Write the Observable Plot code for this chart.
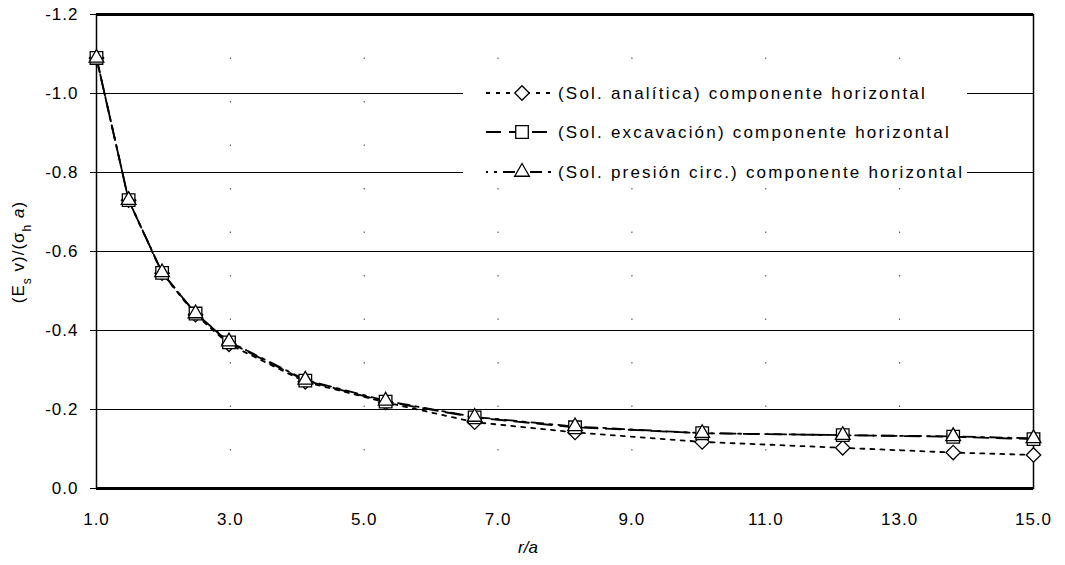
<!DOCTYPE html>
<html><head><meta charset="utf-8">
<script src="https://cdn.jsdelivr.net/npm/d3@7"></script>
<script src="https://cdn.jsdelivr.net/npm/@observablehq/plot@0.6"></script>
<style>
body{margin:0;background:#fff;}
#chart{width:1065px;height:565px;}
g[aria-label="x-axis tick label"] text, g[aria-label="y-axis tick label"] text{letter-spacing:1px;}
</style></head><body><div id="chart"></div>
<script>
// r/a positions of the computed points
const rOverA = [1.0, 1.48, 1.98, 2.48, 2.98, 4.12, 5.32, 6.65, 8.15, 10.05, 12.15, 13.8, 15.0];
// (Es v)/(sigma_h a) values
const analitica  = [-1.09, -0.73, -0.545, -0.44, -0.365, -0.27, -0.218, -0.168, -0.142, -0.118, -0.103, -0.091, -0.085];
const excavacion = [-1.09, -0.73, -0.546, -0.443, -0.37, -0.273, -0.22, -0.18, -0.155, -0.14, -0.135, -0.131, -0.125];
const presion    = [-1.09, -0.73, -0.547, -0.443, -0.372, -0.275, -0.222, -0.181, -0.157, -0.14, -0.135, -0.132, -0.127];
const seriesNames = [
  "(Sol. analítica) componente horizontal",
  "(Sol. excavación) componente horizontal",
  "(Sol. presión circ.) componente horizontal"
];
const xTicks = [1, 3, 5, 7, 9, 11, 13, 15];
const yTicks = [0, -0.2, -0.4, -0.6, -0.8, -1.0, -1.2];
const xLabel = "r/a";

const seriesValues = [analitica, excavacion, presion];
const styles = [
  {dash: "4,6", offset: 0, symbol: "diamond2", r: 6.5, d3sym: d3.symbolDiamond2},
  {dash: "15,8", offset: 0, symbol: "square2", r: 8, d3sym: d3.symbolSquare2},
  {dash: "12,6,3,6", offset: 10, symbol: "triangle2", r: 7, d3sym: d3.symbolTriangle2}
];
const rows = [];
seriesValues.forEach((vals, i) => vals.forEach((v, j) => rows.push({k: i, series: seriesNames[i], x: rOverA[j], y: v})));

const fmt = d => (Math.abs(d) < 1e-9 ? 0 : d).toFixed(1);

const marks = [
  Plot.ruleX(xTicks.slice(1, -1), {stroke: "#444", strokeDasharray: "1.5,42", strokeWidth: 1}),
  Plot.ruleY(yTicks.slice(1, -1), {stroke: "black", strokeWidth: 1}),
  Plot.frame({stroke: "black", strokeWidth: 1.5}),
  Plot.ruleY([0, -1.2], {stroke: "black", strokeWidth: 3}),
  Plot.axisX({ticks: xTicks, tickFormat: fmt, tickSize: 0, tickPadding: 24, fontSize: 17, label: null}),
  Plot.axisY({ticks: yTicks, tickFormat: fmt, tickSize: 6, tickPadding: 12, fontSize: 17, label: null})
];
styles.forEach((s, i) => {
  marks.push(Plot.line(rows.filter(d => d.k === i), {x: "x", y: "y", stroke: "black", strokeWidth: 1.8, strokeDasharray: s.dash, strokeDashoffset: s.offset}));
});
styles.forEach((s, i) => {
  marks.push(Plot.dot(rows.filter(d => d.k === i), {x: "x", y: "y", symbol: () => s.symbol, r: s.r, stroke: "black", strokeWidth: 1.3, fill: "white"}));
});

const plot = Plot.plot({
  width: 1065, height: 565,
  marginLeft: 96, marginRight: 32, marginTop: 14, marginBottom: 77,
  style: {fontFamily: "'Liberation Sans', Arial, sans-serif", background: "white", color: "black"},
  x: {domain: [1, 15]},
  y: {domain: [0, -1.2]},
  marks
});
document.getElementById("chart").appendChild(plot);

const svg = d3.select(plot);
// y label
const yl = svg.append("text").attr("transform", "translate(24,252) rotate(-90)")
  .attr("text-anchor", "middle").attr("font-size", 17).attr("fill", "black").attr("letter-spacing", "1px");
yl.append("tspan").text("(E");
yl.append("tspan").attr("baseline-shift", "sub").attr("font-size", 12).text("s");
yl.append("tspan").text(" v)/(σ");
yl.append("tspan").attr("baseline-shift", "sub").attr("font-size", 12).text("h");
yl.append("tspan").text(" ");
yl.append("tspan").attr("font-style", "italic").text("a");
yl.append("tspan").text(")");
// x label
svg.append("text").attr("x", 528).attr("y", 553).attr("text-anchor", "middle")
  .attr("font-size", 17).attr("font-style", "italic").attr("fill", "black").text(xLabel);

// legend
const lg = svg.append("g").attr("text-anchor", "start");
lg.append("rect").attr("x", 463).attr("y", 79).attr("width", 504).attr("height", 106).attr("fill", "white");
const rowY = [93, 132, 172];
styles.forEach((s, i) => {
  const y = rowY[i];
  lg.append("line").attr("x1", 486).attr("x2", 552).attr("y1", y).attr("y2", y)
    .attr("stroke", "black").attr("stroke-width", 1.8).attr("stroke-dasharray", s.dash).attr("stroke-dashoffset", s.offset);
  lg.append("path").attr("transform", `translate(522,${y})`)
    .attr("d", d3.symbol().type(s.d3sym).size(Math.PI * s.r * s.r)())
    .attr("fill", "white").attr("stroke", "black").attr("stroke-width", 1.3);
  lg.append("text").attr("x", 558).attr("y", y).attr("dy", "0.35em").attr("text-anchor", "start")
    .attr("font-size", 17).attr("letter-spacing", "2.2px").attr("fill", "black").text(seriesNames[i]);
});
</script></body></html>
